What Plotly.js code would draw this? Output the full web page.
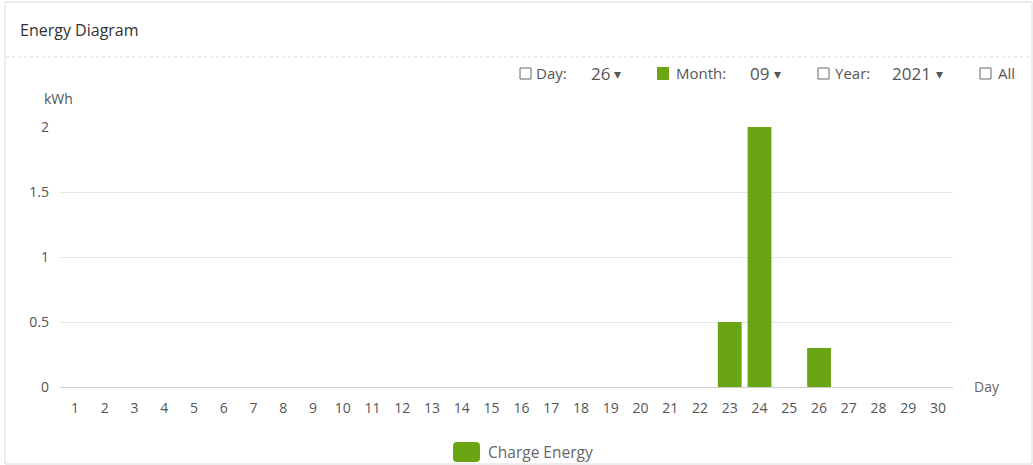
<!DOCTYPE html>
<html><head><meta charset="utf-8">
<script src="https://cdn.plot.ly/plotly-3.0.1.min.js"></script>
<style>html,body{margin:0;padding:0;background:#fff;}#chart{width:1033px;height:465px;}</style>
</head><body><div id="chart"></div>
<script>
const days = ['1','2','3','4','5','6','7','8','9','10','11','12','13','14','15','16','17','18','19','20','21','22','23','24','25','26','27','28','29','30'];
const chargeEnergy = [0,0,0,0,0,0,0,0,0,0,0,0,0,0,0,0,0,0,0,0,0,0,0.5,2,0,0.3,0,0,0,0];
const seriesName = 'Charge Energy';
const yTicks = [0,0.5,1,1.5,2];
const yTickText = ['0','0.5','1','1.5','2'];

const L=60, R=80, T=127, B=78, W=1033, H=465;
const pw=W-L-R, ph=H-T-B;
const px = x => (x-L)/pw;
const py = y => (H-B-y)/ph;
const FONT = 'Open Sans, Noto Sans, sans-serif';
const green = '#6aa514';

function roundRect(x0,y0,x1,y1,r){
  const P=(x,y)=>px(x)+','+py(y);
  return 'M'+P(x0+r,y0)+' L'+P(x1-r,y0)+' Q'+P(x1,y0)+' '+P(x1,y0+r)+
         ' L'+P(x1,y1-r)+' Q'+P(x1,y1)+' '+P(x1-r,y1)+
         ' L'+P(x0+r,y1)+' Q'+P(x0,y1)+' '+P(x0,y1-r)+
         ' L'+P(x0,y0+r)+' Q'+P(x0,y0)+' '+P(x0+r,y0)+' Z';
}

const shapes = [
  {type:'rect', xref:'paper', yref:'paper', x0:px(5), x1:px(1032), y0:py(464), y1:py(2), line:{color:'#dcdcdc', width:1}, fillcolor:'rgba(0,0,0,0)', layer:'below'},
  {type:'line', xref:'paper', yref:'paper', x0:px(6), x1:px(1031), y0:py(57), y1:py(57), line:{color:'#d8d8d8', width:1, dash:'dot'}},
  {type:'rect', xref:'paper', yref:'paper', x0:px(520), x1:px(531), y0:py(79), y1:py(68), line:{color:'#666', width:1}},
  {type:'rect', xref:'paper', yref:'paper', x0:px(657), x1:px(669), y0:py(80), y1:py(67), line:{color:green, width:0}, fillcolor:green},
  {type:'rect', xref:'paper', yref:'paper', x0:px(818), x1:px(829), y0:py(79), y1:py(68), line:{color:'#666', width:1}},
  {type:'rect', xref:'paper', yref:'paper', x0:px(980), x1:px(991), y0:py(79), y1:py(68), line:{color:'#666', width:1}},
  {type:'path', xref:'paper', yref:'paper', path:roundRect(453,442,480,462,4), line:{color:green, width:0}, fillcolor:green}
];

const ann = (x,y,text,size,color,xanchor) => ({xref:'paper', yref:'paper', x:px(x), y:py(y), text:text, showarrow:false, xanchor:xanchor||'left', yanchor:'middle', font:{family:FONT, size:size, color:color}});

const annotations = [
  ann(534,73,'Day:',15,'#555'),
  ann(589,73,'26',17,'#555'),
  ann(612,73,'▾',14,'#555'),
  ann(674,73,'Month:',15,'#555'),
  ann(748,73,'09',17,'#555'),
  ann(772,73,'▾',14,'#555'),
  ann(833,73,'Year:',15,'#555'),
  ann(890,73,'2021',17,'#555'),
  ann(934,73,'▾',14,'#555'),
  ann(996,73,'All',15,'#555'),
  ann(42,99,'kWh',14,'#555'),
  ann(972,386,'Day',14,'#666'),
  ann(486,452,seriesName,15.5,'#666')
];

const data = [{
  type:'bar', x:days, y:chargeEnergy, name:seriesName,
  marker:{color:green}, showlegend:false, hoverinfo:'x+y'
}];

const layout = {
  width:W, height:H,
  margin:{l:L, r:R, t:T, b:B},
  paper_bgcolor:'#fff', plot_bgcolor:'#fff',
  title:{text:'Energy Diagram', x:20/W, xanchor:'left', y:1-30/H, yanchor:'middle', font:{family:FONT, size:16, color:'#333'}},
  bargap:0.2,
  showlegend:false,
  xaxis:{type:'category', tickmode:'array', tickvals:days, ticktext:days, showgrid:false, zeroline:false,
         showline:true, linecolor:'#d0d0d0', ticks:'', tickfont:{family:FONT, size:14, color:'#555'}, ticklabelstandoff:8, fixedrange:true},
  yaxis:{range:[0,2], tickmode:'array', tickvals:yTicks, ticktext:yTickText, showgrid:true, gridcolor:'#e6e6e6',
         zeroline:false, showline:false, ticks:'', tickfont:{family:FONT, size:14, color:'#555'}, ticklabelstandoff:10, fixedrange:true},
  shapes:shapes, annotations:annotations,
  font:{family:FONT}
};
Plotly.newPlot('chart', data, layout, {displayModeBar:false, staticPlot:true});
</script></body></html>
